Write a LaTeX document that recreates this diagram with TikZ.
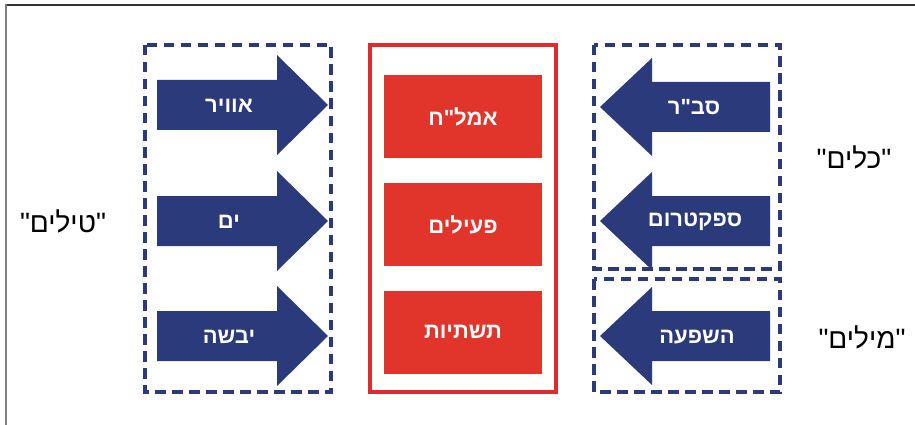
\documentclass[tikz,border=0pt]{standalone}
\usepackage{fontspec}
\setmainfont{Liberation Sans}
\newfontfamily\hebfont[Script=Hebrew]{Liberation Sans}
\TeXXeTstate=1
\definecolor{navy}{HTML}{2B3A7B}
\definecolor{redfill}{HTML}{E1352B}
\definecolor{redline}{HTML}{E02A2E}
\begin{document}
\begin{tikzpicture}[x=1pt,y=-1pt,
  dbox/.style={draw=navy,line width=3.2pt,dash pattern=on 10.5pt off 6.5pt},
  arrowtxt/.style={text=white,font=\hebfont\bfseries\fontsize{22}{22}\selectfont,inner sep=0pt},
  redbox/.style={fill=redfill,draw=none,minimum width=158pt,minimum height=83pt,inner sep=0pt,text=white,font=\hebfont\bfseries\fontsize{22}{22}\selectfont},
  outer/.style={font=\hebfont\fontsize{28}{28}\selectfont,inner sep=0pt,text=black}]
\useasboundingbox (0,0) rectangle (915,425);
% frame
\coordinate (ftl) at (5,5);
\coordinate (ftr) at (915,5);
\coordinate (fbl) at (6,425);
\draw[line width=2pt,draw=black!80] (ftl) -- (ftr);
\draw[line width=2.5pt,draw=black!50] (6,4) -- (fbl);
% dashed groups
\draw[dbox] (145,45) rectangle (331,392);
\draw[dbox] (594,45) rectangle (780,269);
\draw[dbox] (594,279) rectangle (780,392);
% red group
\draw[draw=redline,line width=3.2pt] (370,45) rectangle (556,392);
\node[redbox] (r1) at (463,116.5) {\beginR אמל"ח\endR};
\node[redbox] (r2) at (463,224.5) {\beginR פעילים\endR};
\node[redbox] (r3) at (463,332) {\beginR תשתיות\endR};
% left arrows
\foreach \c in {105,221,336}{
  \fill[navy] (157,\c-25) -- (277,\c-25) -- (277,\c-50) -- (328,\c) -- (277,\c+50) -- (277,\c+25) -- (157,\c+25) -- cycle;
}
\node[arrowtxt] (l1) at (229,106) {\beginR אוויר\endR};
\node[arrowtxt] (l2) at (229,222) {\beginR ים\endR};
\node[arrowtxt] (l3) at (229,337) {\beginR יבשה\endR};
% right arrows
\foreach \c in {107,221,336}{
  \fill[navy] (770,\c-25) -- (652,\c-25) -- (652,\c-49) -- (600,\c) -- (652,\c+49) -- (652,\c+25) -- (770,\c+25) -- cycle;
}
\node[arrowtxt] (q1) at (694,107) {\beginR סב"ר\endR};
\node[arrowtxt] (q2) at (695,222) {\beginR ספקטרום\endR};
\node[arrowtxt] (q3) at (697,337) {\beginR השפעה\endR};
% outer labels
\node[outer] (t1) at (63,221) {\beginR "טילים"\endR};
\node[outer] (t2) at (854,157) {\beginR "כלים"\endR};
\node[outer] (t3) at (862,337) {\beginR "מילים"\endR};
\end{tikzpicture}
\end{document}
